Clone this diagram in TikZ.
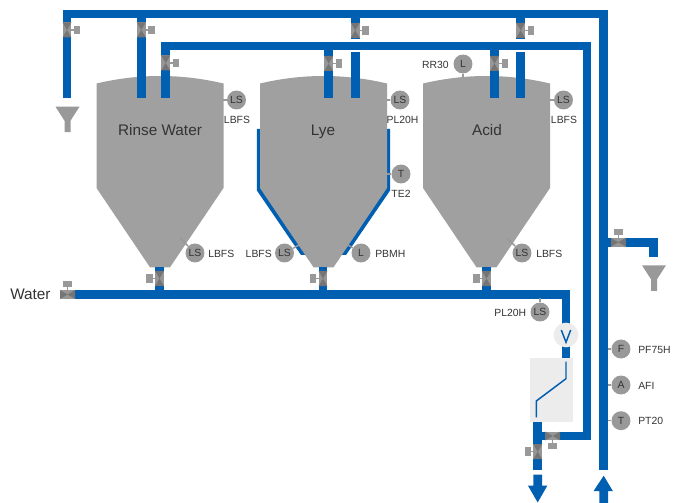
\documentclass[tikz,border=0pt]{standalone}
\usepackage{fontspec}
\setmainfont{Liberation Sans}
\definecolor{pipeblue}{HTML}{005FB1}
\definecolor{tankgray}{HTML}{A0A0A0}
\definecolor{instgray}{HTML}{999999}
\definecolor{valvedark}{HTML}{757575}
\definecolor{valvelight}{HTML}{969696}
\definecolor{panelgray}{HTML}{ECECEC}
\definecolor{textgray}{HTML}{333333}
\tikzset{
  pipe/.style={draw=pipeblue,line width=6.5pt,line join=miter,line cap=butt},
  thinblue/.style={draw=pipeblue,line width=1.1pt,line join=miter},
  stub/.style={draw=instgray,line width=1.1pt},
  tankbody/.style={fill=tankgray,draw=none},
  inst/.style={circle,fill=instgray,draw=none,minimum size=14.2pt,inner sep=0pt,font=\fontsize{7.8}{9}\selectfont,text=textgray},
  tag/.style={inner sep=0pt,font=\fontsize{7.8}{9}\selectfont,text=textgray},
  bigtag/.style={inner sep=0pt,font=\fontsize{11.5}{13}\selectfont,text=textgray},
  valve/.pic={
    \fill[valvelight] (-4.4,-7.5) rectangle (4.4,7.5);
    \fill[valvedark] (-4.4,-7.5) -- (4.4,-7.5) -- (0,0) -- (4.4,7.5) -- (-4.4,7.5) -- (0,0) -- cycle;
    \draw[stub] (4.4,0) -- (7,0);
    \fill[instgray] (7,-4.4) rectangle (13.2,4.4);
  },
  funnel/.pic={
    \fill[instgray] (-12,0) -- (12,0) -- (3,14) -- (3,25.5) -- (-3,25.5) -- (-3,14) -- cycle;
  }
}
\begin{document}
\begin{tikzpicture}[x=0.75pt,y=-0.75pt]
\useasboundingbox (0,0) rectangle (676,503);
% jacket on the Lye tank
\fill[pipeblue] (256.9,129) -- (256.9,190.5) -- (301,255) -- (310,255) -- (262,180) -- (262,129) -- cycle;
\fill[pipeblue] (390.1,129) -- (390.1,190.5) -- (346,255) -- (337,255) -- (385,180) -- (385,129) -- cycle;
% tanks
\foreach \c in {160,323.5,486.5}{
  \fill[tankbody] (\c-63.5,83.5) .. controls (\c-21,73.5) and (\c+21,73.5) .. (\c+63.5,83.5)
    -- (\c+63.5,188) -- (\c+10,267.3) -- (\c-10,267.3) -- (\c-63.5,188) -- cycle;
}
\node[bigtag,anchor=base] (t1) at (160,135.5) {Rinse Water};
\node[bigtag,anchor=base] (t2) at (323,135.5) {Lye};
\node[bigtag,anchor=base] (t3) at (487,135.5) {Acid};
\node[bigtag,anchor=west] (water) at (10,294) {Water};
% pipe coordinates
\coordinate (a1) at (67,98);
\coordinate (a2) at (67,14);
\coordinate (a3) at (603.7,14);
\coordinate (a4) at (603.7,470);
\coordinate (b1) at (165.7,98);
\coordinate (b2) at (165.7,46);
\coordinate (b3) at (587,46);
\coordinate (b4) at (587,436);
\coordinate (b5) at (537.7,436);
\coordinate (c1) at (537.7,422.3);
\coordinate (c2) at (537.7,470);
\coordinate (w1) at (75,294.5);
\coordinate (w2) at (566,294.5);
\coordinate (w3) at (566,358);
\coordinate (r1) at (603.7,242.3);
\coordinate (r2) at (653.7,242.3);
\coordinate (r3) at (653.7,257);
% pipes
\draw[pipe] (a1) -- (a2) -- (a3) -- (a4);
\draw[pipe] (b1) -- (b2) -- (b3) -- (b4) -- (b5);
\draw[pipe] (c1) -- (c2);
\draw[pipe] (w1) -- (w2) -- (w3);
\draw[pipe] (r1) -- (r2) -- (r3);
\draw[pipe] (141.3,14) -- (141.3,98);
\draw[pipe] (328.7,46) -- (328.7,98);
\draw[pipe] (355.3,14) -- (355.3,39.5);
\draw[pipe] (355.3,52) -- (355.3,98);
\draw[pipe] (494.5,46) -- (494.5,98);
\draw[pipe] (520.7,14) -- (520.7,39.5);
\draw[pipe] (520.7,52) -- (520.7,98);
\draw[pipe] (159.5,267) -- (159.5,291);
\draw[pipe] (323,267) -- (323,291);
\draw[pipe] (486.5,267) -- (486.5,291);
% arrows
\fill[pipeblue] (533.4,474.7) -- (542,474.7) -- (542,485.7) -- (547.3,485.7) -- (537.7,502.5) -- (528,485.7) -- (533.4,485.7) -- cycle;
\fill[pipeblue] (599.4,503) -- (608,503) -- (608,491) -- (612.8,491) -- (603.7,475.7) -- (593.6,491) -- (599.4,491) -- cycle;
% valves
\foreach \p in {(67,30),(141.3,30),(355.3,30.3),(520.7,30.3),(165.7,63),(328.7,63.5),(494.5,63.5)}{
  \path \p pic {valve};
}
\foreach \p in {(159.5,278.5),(323,278.5),(486.5,278.5),(537.7,451.7)}{
  \path \p pic[rotate=180] {valve};
}
\path (67.5,294.5) pic[rotate=90] {valve};
\path (618.3,242.3) pic[rotate=90] {valve};
\path (552.7,436) pic[rotate=-90] {valve};
% funnels
\path (67.5,106.7) pic {funnel};
\path (654,265.3) pic {funnel};
% check valve and panel
\node[circle,fill=panelgray,draw=none,minimum size=18.5pt,inner sep=0pt] (chk) at (566,335) {};
\draw[thinblue] (561.3,330) -- (566,342.3) -- (570.7,330);
\node[rectangle,fill=panelgray,draw=none,minimum width=32.3pt,minimum height=47.8pt,inner sep=0pt] (panel) at (551.5,390) {};
\draw[thinblue] (566,361.7) -- (566,378.7) -- (536.3,401) -- (536.3,417.3);
% instruments
\node[inst] (i1) at (236.5,100) {LS};
\node[inst] (i2) at (400,100) {LS};
\node[inst] (i3) at (563.5,100) {LS};
\node[inst] (i4) at (463,64) {L};
\node[inst] (i5) at (401,174) {T};
\node[inst] (i6) at (195,253) {LS};
\node[inst] (i7) at (284.5,253) {LS};
\node[inst] (i8) at (361,253) {L};
\node[inst] (i9) at (522,253) {LS};
\node[inst] (i10) at (540,312) {LS};
\node[inst] (i11) at (621,349) {F};
\node[inst] (i12) at (621,385) {A};
\node[inst] (i13) at (621,420.7) {T};
\coordinate (s1) at (223,100);
\coordinate (s2) at (387,100);
\coordinate (s3) at (550,100);
\coordinate (s4) at (463,77);
\coordinate (s5) at (387,174);
\coordinate (s6) at (180,238);
\coordinate (s7) at (299,245);
\coordinate (s8) at (348,245);
\coordinate (s9) at (507,238);
\coordinate (s10) at (540,298);
\coordinate (s11) at (608,349);
\coordinate (s12) at (608,385);
\coordinate (s13) at (608,420.7);
\foreach \n in {1,...,13}{
  \draw[stub] (i\n) -- (s\n);
}
% tags
\node[tag] (l1) at (237,119.5) {LBFS};
\node[tag] (l2) at (402.5,119.5) {PL20H};
\node[tag] (l3) at (564,119.5) {LBFS};
\node[tag,anchor=east] (l4) at (449,65) {RR30};
\node[tag] (l5) at (401,193.5) {TE2};
\node[tag,anchor=west] (l6) at (208,254) {LBFS};
\node[tag,anchor=east] (l7) at (272,254) {LBFS};
\node[tag,anchor=west] (l8) at (375,254) {PBMH};
\node[tag,anchor=west] (l9) at (536,254) {LBFS};
\node[tag,anchor=east] (l10) at (526.5,312.5) {PL20H};
\node[tag,anchor=west] (l11) at (638,349.5) {PF75H};
\node[tag,anchor=west] (l12) at (638,385.5) {AFI};
\node[tag,anchor=west] (l13) at (638,421) {PT20};
\end{tikzpicture}
\end{document}
